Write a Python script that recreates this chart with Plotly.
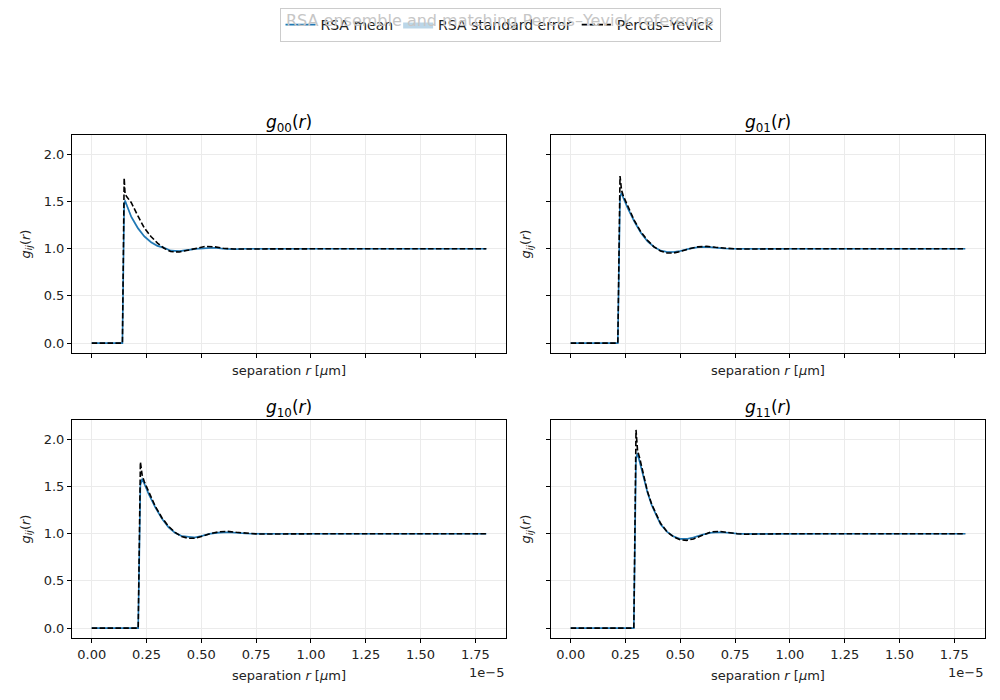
import plotly.graph_objects as go

###############
## CONSTANTS ##
###############

R_UNIT = 1e-5  # separations below are given in units of 1e-5

PANEL_TITLES = ["00", "01", "10", "11"]

# g00
r_00 = [0.00, 0.140, 0.148, 0.152, 0.16, 0.18, 0.21, 0.24, 0.27, 0.30, 0.33, 0.36, 0.40, 0.44, 0.48, 0.52,
        0.56, 0.60, 0.65, 0.70, 0.80, 0.90, 1.00, 1.10, 1.20, 1.30, 1.40, 1.50, 1.60, 1.70, 1.80]
rsa_00 = [0.0, 0.0, 1.46, 1.51, 1.46, 1.34, 1.22, 1.13, 1.07, 1.03, 1.01, 0.98, 0.975, 0.99, 1.00, 1.005,
          1.01, 1.00, 0.995, 1.00, 1.00, 0.998, 1.00, 1.00, 1.002, 1.00, 0.998, 1.00, 1.00, 1.00, 1.00]
err_00 = [0.0, 0.0, 0.03, 0.03, 0.025, 0.02, 0.02, 0.015, 0.015, 0.012, 0.01, 0.01, 0.01, 0.01, 0.01, 0.01,
          0.008, 0.008, 0.008, 0.008, 0.006, 0.006, 0.006, 0.006, 0.005, 0.005, 0.005, 0.005, 0.005, 0.005, 0.005]
py_00 = [0.0, 0.0, 1.75, 1.58, 1.55, 1.49, 1.35, 1.22, 1.13, 1.06, 1.005, 0.97, 0.965, 0.985, 1.01, 1.025,
         1.02, 1.005, 0.997, 0.998, 1.00, 1.002, 1.00, 0.999, 1.00, 1.00, 1.00, 1.00, 1.00, 1.00, 1.00]

# g01
r_01 = [0.00, 0.215, 0.225, 0.232, 0.24, 0.26, 0.29, 0.32, 0.35, 0.38, 0.41, 0.44, 0.47, 0.50, 0.54, 0.58,
        0.62, 0.66, 0.70, 0.75, 0.80, 0.90, 1.00, 1.10, 1.20, 1.30, 1.40, 1.50, 1.60, 1.70, 1.80]
rsa_01 = [0.0, 0.0, 1.55, 1.59, 1.54, 1.43, 1.29, 1.17, 1.08, 1.02, 0.98, 0.965, 0.965, 0.975, 1.00, 1.015,
          1.02, 1.01, 1.003, 1.00, 0.998, 1.00, 1.00, 1.00, 1.00, 1.00, 1.00, 1.00, 1.00, 1.00, 1.00]
err_01 = [0.0, 0.0, 0.03, 0.03, 0.025, 0.02, 0.02, 0.015, 0.015, 0.012, 0.01, 0.01, 0.01, 0.01, 0.01, 0.01,
          0.008, 0.008, 0.008, 0.008, 0.006, 0.006, 0.006, 0.006, 0.005, 0.005, 0.005, 0.005, 0.005, 0.005, 0.005]
py_01 = [0.0, 0.0, 1.77, 1.62, 1.56, 1.45, 1.30, 1.18, 1.09, 1.02, 0.975, 0.955, 0.955, 0.97, 1.00, 1.02,
         1.025, 1.015, 1.005, 0.998, 0.997, 1.00, 1.00, 1.00, 1.00, 1.00, 1.00, 1.00, 1.00, 1.00, 1.00]

# g10
r_10 = [0.00, 0.212, 0.222, 0.230, 0.24, 0.26, 0.29, 0.32, 0.35, 0.38, 0.41, 0.44, 0.47, 0.50, 0.54, 0.58,
        0.62, 0.66, 0.70, 0.75, 0.80, 0.90, 1.00, 1.10, 1.20, 1.30, 1.40, 1.50, 1.60, 1.70, 1.80]
rsa_10 = [0.0, 0.0, 1.52, 1.58, 1.53, 1.42, 1.28, 1.16, 1.07, 1.01, 0.975, 0.965, 0.96, 0.975, 1.00, 1.012,
          1.015, 1.01, 1.002, 1.00, 0.999, 1.00, 1.00, 1.00, 1.00, 1.00, 1.00, 1.00, 1.00, 1.00, 1.00]
err_10 = [0.0, 0.0, 0.03, 0.03, 0.025, 0.02, 0.02, 0.015, 0.015, 0.012, 0.01, 0.01, 0.01, 0.01, 0.01, 0.01,
          0.008, 0.008, 0.008, 0.008, 0.006, 0.006, 0.006, 0.006, 0.005, 0.005, 0.005, 0.005, 0.005, 0.005, 0.005]
py_10 = [0.0, 0.0, 1.76, 1.62, 1.55, 1.44, 1.29, 1.17, 1.08, 1.015, 0.97, 0.952, 0.952, 0.97, 1.00, 1.02,
         1.025, 1.015, 1.005, 0.998, 0.997, 1.00, 1.00, 1.00, 1.00, 1.00, 1.00, 1.00, 1.00, 1.00, 1.00]

# g11
r_11 = [0.00, 0.288, 0.298, 0.305, 0.315, 0.33, 0.35, 0.37, 0.39, 0.41, 0.44, 0.47, 0.50, 0.53, 0.56, 0.60,
        0.64, 0.68, 0.72, 0.76, 0.80, 0.90, 1.00, 1.10, 1.20, 1.30, 1.40, 1.50, 1.60, 1.70, 1.80]
rsa_11 = [0.0, 0.0, 1.80, 1.85, 1.76, 1.62, 1.44, 1.30, 1.19, 1.10, 1.02, 0.97, 0.945, 0.945, 0.96, 0.99,
          1.01, 1.015, 1.01, 1.00, 0.998, 1.00, 1.00, 1.00, 1.00, 1.00, 1.00, 1.00, 1.00, 1.00, 1.00]
err_11 = [0.0, 0.0, 0.04, 0.04, 0.03, 0.025, 0.02, 0.015, 0.015, 0.012, 0.01, 0.01, 0.01, 0.01, 0.01, 0.01,
          0.008, 0.008, 0.008, 0.008, 0.006, 0.006, 0.006, 0.006, 0.005, 0.005, 0.005, 0.005, 0.005, 0.005, 0.005]
py_11 = [0.0, 0.0, 2.10, 1.88, 1.80, 1.65, 1.45, 1.31, 1.20, 1.11, 1.02, 0.965, 0.935, 0.93, 0.945, 0.985,
         1.02, 1.025, 1.01, 1.00, 0.995, 1.00, 1.00, 1.00, 1.00, 1.00, 1.00, 1.00, 1.00, 1.00, 1.00]

X_TICKS = [0.00, 0.25, 0.50, 0.75, 1.00, 1.25, 1.50, 1.75]
Y_TICKS = [0.0, 0.5, 1.0, 1.5, 2.0]

BLUE = "#1f77b4"
FONT = "DejaVu Sans"

#################
## MAIN SCRIPT ##
#################

panels = [
  (r_00, rsa_00, err_00, py_00),
  (r_01, rsa_01, err_01, py_01),
  (r_10, rsa_10, err_10, py_10),
  (r_11, rsa_11, err_11, py_11),
]

fig = go.Figure()

for i, (r, rsa, err, py) in enumerate(panels):
  suffix = "" if i == 0 else str(i + 1)
  xs = [v * R_UNIT for v in r]
  lower = [m - e for m, e in zip(rsa, err)]
  upper = [m + e for m, e in zip(rsa, err)]
  first = i == 0

  fig.add_trace(go.Scatter(
    x=xs, y=lower, mode="lines", line=dict(width=0), showlegend=False,
    xaxis="x" + suffix, yaxis="y" + suffix, hoverinfo="skip"
  ))
  fig.add_trace(go.Scatter(
    x=xs, y=upper, mode="lines", line=dict(width=0), fill="tonexty",
    fillcolor="rgba(31,119,180,0.3)", name="RSA standard error",
    showlegend=first, legendrank=2, xaxis="x" + suffix, yaxis="y" + suffix
  ))
  fig.add_trace(go.Scatter(
    x=xs, y=rsa, mode="lines", line=dict(color=BLUE, width=1.6),
    name="RSA mean", showlegend=first, legendrank=1,
    xaxis="x" + suffix, yaxis="y" + suffix
  ))
  fig.add_trace(go.Scatter(
    x=xs, y=py, mode="lines", line=dict(color="black", width=1.6, dash="5.5px,2.4px"),
    name="Percus\u2013Yevick", showlegend=first, legendrank=3,
    xaxis="x" + suffix, yaxis="y" + suffix
  ))

# axes layout (the page body adds an 8px offset, margins compensate)
x_domains = [[0, 0.4754], [0.5246, 1], [0, 0.4754], [0.5246, 1]]
y_domains = [[0.5666, 1], [0.5666, 1], [0, 0.4334], [0, 0.4334]]

axis_common = dict(
  showline=True, linecolor="black", linewidth=1, mirror=True,
  ticks="outside", ticklen=4, tickcolor="black",
  showgrid=True, gridcolor="#ebebeb", zeroline=False,
  tickfont=dict(family=FONT, size=13, color="#222"),
)

layout_axes = {}
annotations = []
for i in range(4):
  suffix = "" if i == 0 else str(i + 1)
  bottom = i >= 2
  left = i % 2 == 0
  layout_axes["xaxis" + suffix] = dict(
    axis_common, domain=x_domains[i], anchor="y" + suffix,
    range=[-0.09 * R_UNIT, 1.89 * R_UNIT],
    tickvals=[v * R_UNIT for v in X_TICKS],
    ticktext=[f"{v:.2f}" for v in X_TICKS],
    showticklabels=bottom,
    title=dict(text="separation <i>r</i> [<i>\u03bc</i>m]",
               font=dict(family=FONT, size=13, color="#222"),
               standoff=10 if bottom else 8),
  )
  layout_axes["yaxis" + suffix] = dict(
    axis_common, domain=y_domains[i], anchor="x" + suffix,
    range=[-0.105, 2.205],
    tickvals=Y_TICKS, ticktext=[f"{v:.1f}" for v in Y_TICKS],
    showticklabels=left,
    title=dict(text="<i>g</i><sub><i>ij</i></sub>(<i>r</i>)",
               font=dict(family=FONT, size=13, color="#222"),
               standoff=10 if left else 12),
  )
  annotations.append(dict(
    text=f"<i>g</i><sub>{PANEL_TITLES[i]}</sub>(<i>r</i>)",
    xref=f"x{suffix} domain", yref=f"y{suffix} domain",
    x=0.5, y=1.055, xanchor="center", yanchor="middle", showarrow=False,
    font=dict(family=FONT, size=17, color="black"),
  ))
  if bottom:
    annotations.append(dict(
      text="1e\u22125", xref=f"x{suffix} domain", yref=f"y{suffix} domain",
      x=1, y=-0.156, xanchor="right", yanchor="middle", showarrow=False,
      font=dict(family=FONT, size=13, color="#222"),
    ))

# figure title, veiled by the semi-transparent legend box in the original
annotations.append(dict(
  text="RSA ensemble and matching Percus\u2013Yevick reference",
  xref="paper", yref="paper", x=(500 - 8 - 64) / 913, y=1 + (127 - 12) / 503,
  xanchor="center", yanchor="middle", showarrow=False,
  font=dict(family=FONT, size=16, color="#c6c6c6"),
))

fig.update_layout(
  width=1000, height=700,
  margin=dict(l=64, r=23, t=127, b=70),
  paper_bgcolor="white", plot_bgcolor="white",
  font=dict(family=FONT, size=13, color="#222"),
  legend=dict(
    orientation="h", xref="container", yref="container",
    x=0.492, xanchor="center", y=1.0, yanchor="top",
    bgcolor="rgba(255,255,255,0.8)", bordercolor="#cccccc", borderwidth=1,
    font=dict(family=FONT, size=14, color="#222"),
    traceorder="normal",
  ),
  annotations=annotations,
  **layout_axes,
)

fig.write_html("out.html")
